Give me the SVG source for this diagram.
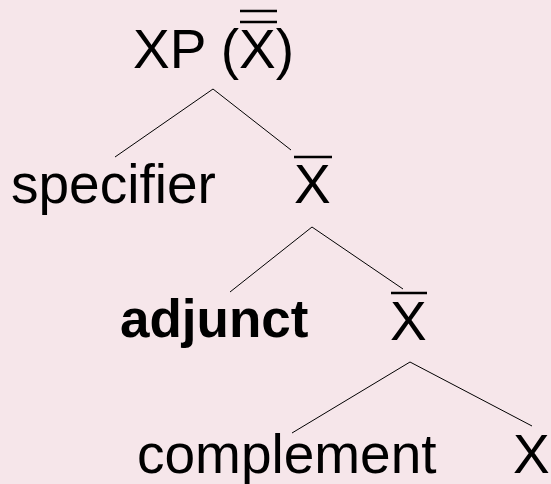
<svg xmlns="http://www.w3.org/2000/svg" width="551" height="484" viewBox="0 0 551 484">
<style>
text{font-family:"Liberation Sans",Arial,sans-serif;font-size:55px;fill:#000}
.b{font-weight:bold;font-size:53px}
.bar{stroke:#000;stroke-width:2.5}
.edge{stroke:#000;stroke-width:1;fill:none}
</style>
<rect width="551" height="484" fill="#f6e6ea"/>
<g id="connectors">
<path class="edge" d="M213,89 L115,157 M213,89 L291,150"/>
<path class="edge" d="M312,227 L230,292 M312,227 L403,289"/>
<path class="edge" d="M410,362 L292,433 M410,362 L532,426"/>
</g>
<g id="xp">
<text x="133" y="68">XP (<tspan>X</tspan>)</text>
<line class="bar" x1="240" y1="11" x2="277" y2="11"/>
<line class="bar" x1="240" y1="22" x2="277" y2="22"/>
</g>
<g id="specifier"><text x="11" y="203">specifier</text></g>
<g id="xbar1"><text x="294" y="203">X</text><line class="bar" x1="294" y1="157" x2="332" y2="157"/></g>
<g id="adjunct"><text class="b" x="120" y="337">adjunct</text></g>
<g id="xbar2"><text x="390" y="340">X</text><line class="bar" x1="391" y1="293" x2="427" y2="293"/></g>
<g id="complement"><text x="137" y="473">complement</text></g>
<g id="x"><text x="513" y="473">X</text></g>
</svg>
